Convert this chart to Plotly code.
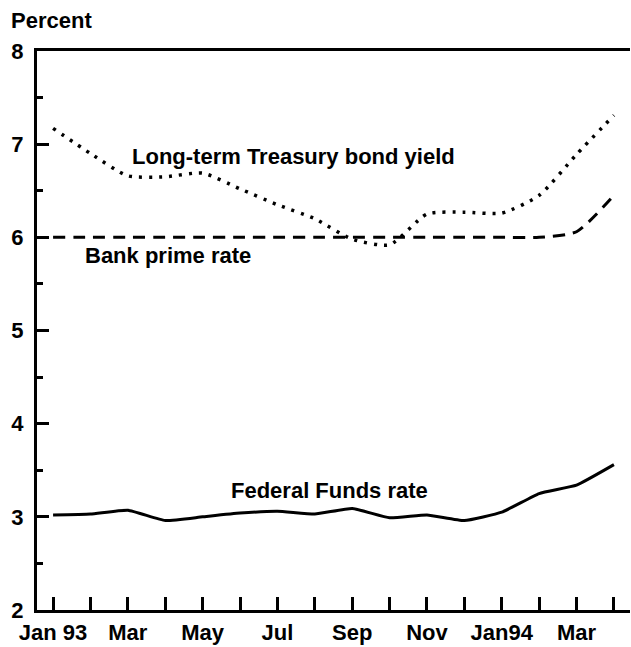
import plotly.graph_objects as go

months = ["Jan 93", "Feb", "Mar", "Apr", "May", "Jun", "Jul", "Aug", "Sep", "Oct",
          "Nov", "Dec", "Jan94", "Feb", "Mar", "Apr"]
tick_labels = ["Jan 93", "", "Mar", "", "May", "", "Jul", "", "Sep", "", "Nov", "",
               "Jan94", "", "Mar", ""]
treasury = [7.17, 6.90, 6.66, 6.65, 6.69, 6.52, 6.35, 6.20, 5.98, 5.92, 6.25, 6.27,
            6.26, 6.45, 6.89, 7.31]
prime = [6.00, 6.00, 6.00, 6.00, 6.00, 6.00, 6.00, 6.00, 6.00, 6.00, 6.00, 6.00,
         6.00, 6.00, 6.06, 6.45]
fedfunds = [3.02, 3.03, 3.07, 2.96, 3.00, 3.04, 3.06, 3.03, 3.09, 2.99, 3.02, 2.96,
            3.05, 3.25, 3.34, 3.56]

x = list(range(len(months)))
FONT = "Liberation Sans, Arial, sans-serif"

fig = go.Figure()
fig.add_trace(go.Scatter(x=x, y=treasury, mode="lines",
                         line=dict(color="black", width=3.5, dash="3px,7px",
                                   shape="spline", smoothing=0.6)))
fig.add_trace(go.Scatter(x=x, y=prime, mode="lines",
                         line=dict(color="black", width=3, dash="12px,8px",
                                   shape="spline", smoothing=0.6)))
fig.add_trace(go.Scatter(x=x, y=fedfunds, mode="lines",
                         line=dict(color="black", width=3,
                                   shape="spline", smoothing=0.4)))

ann_font = dict(family=FONT, size=22, color="black", weight="bold")
fig.add_annotation(x=2.06, y=6.87, text="Long-term Treasury bond yield", showarrow=False,
                   xanchor="left", yanchor="middle", font=ann_font)
fig.add_annotation(x=0.80, y=5.81, text="Bank prime rate", showarrow=False,
                   xanchor="left", yanchor="middle", font=ann_font)
fig.add_annotation(x=4.71, y=3.28, text="Federal Funds rate", showarrow=False,
                   xanchor="left", yanchor="middle", font=ann_font)
fig.add_annotation(xref="paper", yref="paper", x=-0.0472, y=1.0537, text="Percent",
                   showarrow=False, xanchor="left", yanchor="middle", font=ann_font)

fig.update_layout(
    width=631, height=647,
    margin=dict(l=37, r=1, t=51, b=37, autoexpand=False),
    paper_bgcolor="white", plot_bgcolor="white",
    showlegend=False,
    font=dict(family=FONT, size=22, color="black", weight="bold"),
)
fig.update_xaxes(range=[-0.43, 15.43], tickvals=x, ticktext=tick_labels,
                 ticks="inside", ticklen=13, tickwidth=2.5, tickcolor="black",
                 showline=True, linecolor="black", linewidth=3, mirror=True,
                 showgrid=False, zeroline=False, ticklabelstandoff=1, automargin=False,
                 tickfont=dict(family=FONT, size=22, color="black", weight="bold"))
fig.update_yaxes(range=[2, 8], tickvals=[2, 3, 4, 5, 6, 7, 8],
                 ticks="inside", ticklen=12, tickwidth=2.5, tickcolor="black",
                 minor=dict(tickvals=[2.5, 3.5, 4.5, 5.5, 6.5, 7.5], ticks="inside",
                            ticklen=6, tickwidth=2.5, tickcolor="black", showgrid=False),
                 showline=True, linecolor="black", linewidth=3,
                 showgrid=False, zeroline=False, ticklabelstandoff=6, automargin=False,
                 tickfont=dict(family=FONT, size=22, color="black", weight="bold"))

fig.write_html("out.html", config={"displayModeBar": False},
               post_script="document.body.style.margin='0';document.body.style.overflow='hidden';")
